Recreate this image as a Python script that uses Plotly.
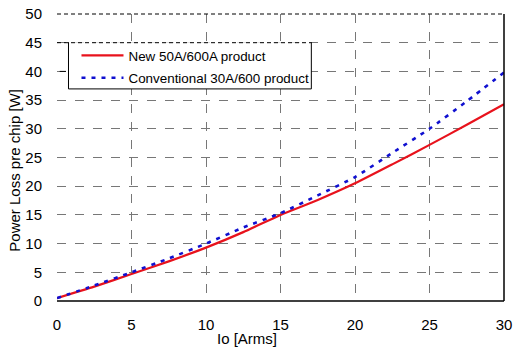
import plotly.graph_objects as go

io_x = [0, 2.5, 5, 7.5, 10, 12.5, 15, 17.5, 20, 22.5, 25, 27.5, 30]
new_50a = [0.5, 2.5, 4.7, 6.9, 9.3, 12.0, 15.0, 17.6, 20.5, 23.8, 27.2, 30.7, 34.3]
conv_30a = [0.5, 2.7, 5.0, 7.4, 10.0, 12.8, 15.3, 18.4, 21.6, 25.8, 30.0, 34.8, 39.8]
x_ticks = [0, 5, 10, 15, 20, 25, 30]
y_ticks = [0, 5, 10, 15, 20, 25, 30, 35, 40, 45, 50]

FONT = "Liberation Sans, Arial, sans-serif"

fig = go.Figure()
fig.add_trace(go.Scatter(x=io_x, y=new_50a, mode="lines", name="New 50A/600A product",
                         legendgroup="a",
                         line=dict(color="#e8121c", width=2.2, shape="spline", smoothing=0.6)))
fig.add_trace(go.Scatter(x=io_x, y=conv_30a, mode="lines", name="Conventional 30A/600 product",
                         legendgroup="b",
                         line=dict(color="#1010d0", width=2.6, dash="4px,6px", shape="spline",
                                   smoothing=0.6)))

LX0, LX1, LY0, LY1 = 0.0257, 0.569, 0.739, 0.902

fig.update_layout(
    width=521, height=352,
    margin=dict(l=57, r=17, t=14, b=51, autoexpand=False),
    paper_bgcolor="white", plot_bgcolor="white",
    font=dict(family=FONT, size=15, color="black"),
    showlegend=True,
    legend=dict(x=LX0, y=0.909, xanchor="left", yanchor="top",
                bgcolor="rgba(0,0,0,0)", borderwidth=0, indentation=8,
                font=dict(family=FONT, size=13.4, color="black"),
                tracegroupgap=2, itemwidth=42),
    xaxis=dict(range=[0, 30], tickvals=x_ticks, showgrid=True, gridcolor="#777777",
               griddash="dash", gridwidth=1, zeroline=False, showline=False,
               ticks="", ticklabelstandoff=13, tickfont=dict(size=15), fixedrange=True,
               automargin=False),
    yaxis=dict(range=[0, 50], tickvals=y_ticks, showgrid=True, gridcolor="#777777",
               griddash="dash", gridwidth=1, zeroline=False, showline=False,
               ticks="", ticklabelstandoff=14, tickfont=dict(size=15), fixedrange=True,
               automargin=False),
    shapes=[
        dict(type="line", xref="paper", yref="paper", x0=0, x1=1, y0=0, y1=0,
             line=dict(color="black", width=1.5)),
        dict(type="line", xref="paper", yref="paper", x0=1, x1=1, y0=0, y1=1,
             line=dict(color="black", width=1.5)),
        dict(type="line", xref="paper", yref="paper", x0=0, x1=1, y0=1, y1=1,
             line=dict(color="black", width=1, dash="4px,3px")),
        dict(type="rect", xref="paper", yref="paper", x0=LX0, x1=LX1, y0=LY0, y1=LY1,
             fillcolor="white", line=dict(width=0), layer="above"),
        dict(type="line", xref="paper", yref="paper", x0=LX0, x1=LX0, y0=LY0, y1=LY1,
             line=dict(color="black", width=1), layer="above"),
        dict(type="line", xref="paper", yref="paper", x0=LX1, x1=LX1, y0=LY0, y1=LY1,
             line=dict(color="black", width=1), layer="above"),
        dict(type="line", xref="paper", yref="paper", x0=LX0, x1=LX1, y0=LY0, y1=LY0,
             line=dict(color="black", width=1), layer="above"),
        dict(type="line", xref="paper", yref="paper", x0=0, x1=LX1, y0=0.9, y1=0.9,
             line=dict(color="black", width=1, dash="4px,3px"), layer="above"),
        dict(type="line", xref="paper", yref="y", x0=0.006, x1=0.02, y0=40, y1=40,
             line=dict(color="black", width=1)),
    ],
    annotations=[
        dict(text="Io [Arms]", xref="paper", yref="paper", x=0.424, y=-0.129,
             xanchor="center", yanchor="middle", showarrow=False,
             font=dict(family=FONT, size=15)),
        dict(text="Power Loss pre chip [W]", xref="paper", yref="paper", x=-0.095,
             y=0.456, xanchor="center", yanchor="middle", textangle=-90, showarrow=False,
             font=dict(family=FONT, size=15)),
    ],
)

fig.write_html("out.html")
